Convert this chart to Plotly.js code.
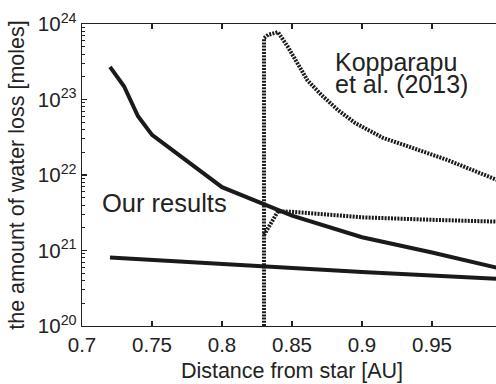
<!DOCTYPE html>
<html>
<head>
<meta charset="utf-8">
<script src="https://cdn.plot.ly/plotly-3.0.1.min.js"></script>
<style>
html, body { margin:0; padding:0; overflow:hidden; background:#fff; width:496px; height:384px; }
#chart { width:530px; height:384px; }
</style>
</head>
<body>
<div id="chart"></div>
<script>
// Our results (upper curve)
var oursUpperX = [0.72, 0.73, 0.74, 0.75, 0.80, 0.85, 0.90, 0.95, 1.00];
var oursUpperY = [2.7e23, 1.5e23, 6.0e22, 3.4e22, 6.9e21, 2.9e21, 1.5e21, 9.4e20, 5.7e20];
// Our results (lower curve)
var oursLowerX = [0.72, 0.80, 0.90, 1.00];
var oursLowerY = [8.1e20, 6.6e20, 5.2e20, 4.2e20];
// Kopparapu et al. (2013) upper branch
var kopUpperX = [0.83, 0.83, 0.833, 0.84, 0.847, 0.854, 0.861, 0.871, 0.883, 0.895, 0.915, 0.93, 0.961, 1.00];
var kopUpperY = [1e20, 6.5e23, 7.2e23, 7.8e23, 5.0e23, 3.0e23, 1.8e23, 1.15e23, 7.2e22, 4.9e22, 3.1e22, 2.5e22, 1.58e22, 8.1e21];
// Kopparapu et al. (2013) lower branch
var kopLowerX = [0.83, 0.84, 0.85, 0.90, 0.95, 1.00];
var kopLowerY = [1.6e21, 3.3e21, 3.25e21, 2.75e21, 2.55e21, 2.4e21];
// Axis ticks
var xTickVals = [0.7, 0.75, 0.8, 0.85, 0.9, 0.95, 1.0];
var xTickText = ["0.7", "0.75", "0.8", "0.85", "0.9", "0.95", "1"];
var yTickVals = [1e20, 1e21, 1e22, 1e23, 1e24];
var yTickText = ["10<sup>20</sup>", "10<sup>21</sup>", "10<sup>22</sup>", "10<sup>23</sup>", "10<sup>24</sup>"];

var lineCol = '#1a1a1a';
var traces = [
  {x: oursUpperX, y: oursUpperY, mode:'lines', line:{color:lineCol, width:4}, hoverinfo:'skip'},
  {x: oursLowerX, y: oursLowerY, mode:'lines', line:{color:lineCol, width:4}, hoverinfo:'skip'},
  {x: kopUpperX, y: kopUpperY, mode:'lines', line:{color:lineCol, width:4, dash:'2px,1.2px'}, hoverinfo:'skip'},
  {x: kopLowerX, y: kopLowerY, mode:'lines', line:{color:lineCol, width:4, dash:'2px,1.2px'}, hoverinfo:'skip'}
];

var fontFam = 'Liberation Sans, Arial, Helvetica, sans-serif';
var layout = {
  width: 530, height: 384,
  margin: {l:82, r:28, t:24, b:58, pad:0},
  showlegend: false,
  paper_bgcolor:'#fff', plot_bgcolor:'#fff',
  font: {family: fontFam, color:'#222', size:20},
  xaxis: {
    range:[0.7, 1.0], tickvals: xTickVals, ticktext: xTickText,
    ticks:'inside', ticklen:5, tickwidth:1.2, tickcolor:'#222',
    showline:true, linecolor:'#222', linewidth:1.3, mirror:'ticks',
    showgrid:false, zeroline:false,
    tickfont:{size:20.5, family:fontFam, color:'#222'},
    title:{text:'Distance from star [AU]', font:{size:21.5, family:fontFam, color:'#222'}, standoff:8}
  },
  yaxis: {
    type:'log', range:[20, 24], tickvals: yTickVals, ticktext: yTickText,
    ticks:'inside', ticklen:5, tickwidth:1.2, tickcolor:'#222',
    minor:{ticks:'inside', ticklen:3, tickwidth:1, tickcolor:'#222', dtick:'D1', showgrid:false},
    showline:true, linecolor:'#222', linewidth:1.3, mirror:'ticks',
    showgrid:false, zeroline:false,
    tickfont:{size:20.5, family:fontFam, color:'#222'},
    title:{text:'the amount of water loss [moles]', font:{size:21.5, family:fontFam, color:'#222'}, standoff:7}
  },
  annotations: [
    {xref:'paper', yref:'paper', x:(333-82)/420, y:(384-58-62)/302, xanchor:'left', yanchor:'middle',
     text:'Kopparapu', showarrow:false, font:{size:25, family:fontFam, color:'#222'}},
    {xref:'paper', yref:'paper', x:(333-82)/420, y:(384-58-84)/302, xanchor:'left', yanchor:'middle',
     text:'et al. (2013)', showarrow:false, font:{size:25, family:fontFam, color:'#222'}},
    {xref:'paper', yref:'paper', x:(100-82)/420, y:(384-58-203)/302, xanchor:'left', yanchor:'middle',
     text:'Our results', showarrow:false, font:{size:25.5, family:fontFam, color:'#222'}}
  ]
};
Plotly.newPlot('chart', traces, layout, {staticPlot:true, displayModeBar:false});
</script>
</body>
</html>
